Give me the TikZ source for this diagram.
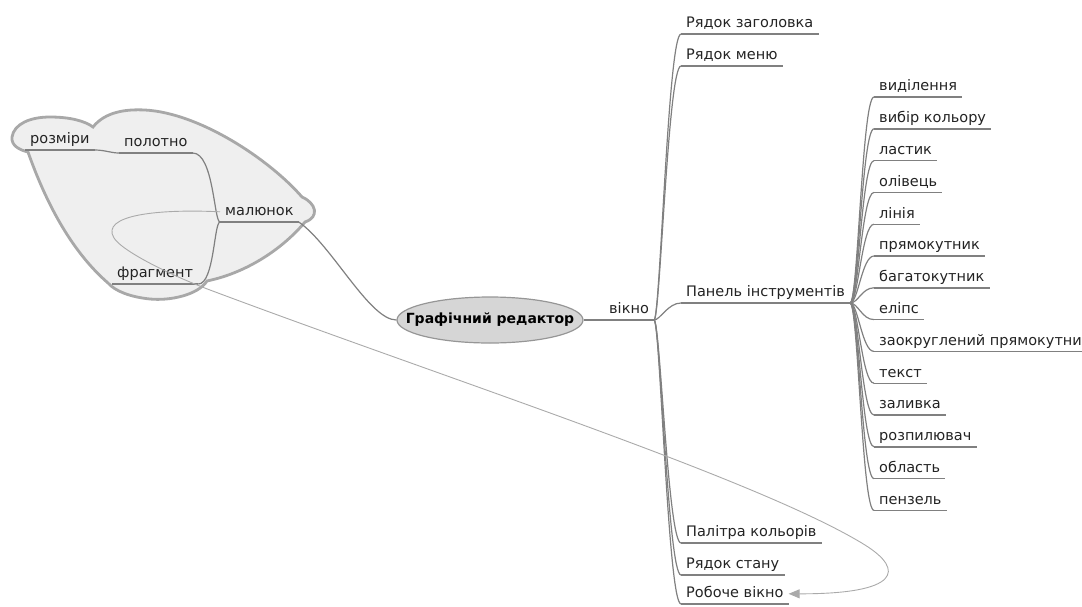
\documentclass[tikz,border=0pt]{standalone}
\usepackage{fontspec}
\setmainfont{DejaVu Sans}
\usetikzlibrary{arrows.meta,shapes.geometric}
\definecolor{wiregray}{RGB}{128,128,128}
\definecolor{blobfill}{RGB}{239,239,239}
\definecolor{blobedge}{RGB}{168,168,168}
\definecolor{centrefill}{RGB}{214,214,214}
\definecolor{centreedge}{RGB}{150,150,150}
\definecolor{relgray}{RGB}{170,170,170}
\definecolor{inkgray}{RGB}{35,35,35}
\tikzset{
  branch/.style={wiregray,line width=1.2pt},
  uline/.style={wiregray,line width=1.4pt},
  relation/.style={relgray,line width=0.9pt,-{Triangle[length=11pt,width=9pt]}},
  topic/.style={anchor=south west,inner xsep=5pt,inner ysep=4pt,text height=10pt,text depth=2pt,
                font=\fontsize{14.5}{17}\selectfont,text=inkgray},
  central/.style={ellipse,draw=centreedge,fill=centrefill,line width=1.2pt,minimum width=186pt,
                  minimum height=46pt,inner xsep=-22pt,inner ysep=0pt,
                  font=\fontsize{14}{17}\selectfont\bfseries,text=black},
  blob/.style={draw=blobedge,fill=blobfill,line width=2.8pt},
}
\begin{document}
\begin{tikzpicture}[x=1pt,y=-1pt]
  \path[use as bounding box] (0,0) rectangle (1082,606);
  \draw[blob] (12,137) .. controls (14,124) and (30,117) .. (50,117)
    .. controls (70,117) and (85,121) .. (93,127)
    .. controls (105,112) and (125,109) .. (145,110)
    .. controls (200,113) and (270,160) .. (302,197)
    .. controls (316,203) and (320,217) .. (305,222)
    .. controls (285,246) and (250,272) .. (207,281)
    .. controls (198,295) and (170,301) .. (150,299)
    .. controls (130,297) and (115,291) .. (108,283)
    .. controls (70,250) and (45,200) .. (28,152)
    .. controls (20,150) and (11,146) .. cycle;

  \node[central] (EDIT) at (490,320) {Графічний редактор};
  \node[topic] (WIN) at (604,320) {вікно};
  \node[topic] (TITLE) at (681,34) {Рядок заголовка};
  \node[topic] (MENU) at (681,66) {Рядок меню};
  \node[topic] (TOOLS) at (681,303) {Панель інструментів};
  \node[topic] (PAL) at (681,543) {Палітра кольорів};
  \node[topic] (STAT) at (681,575) {Рядок стану};
  \node[topic] (WORK) at (681,604) {Робоче вікно};
  \foreach \txt [count=\i from 0] in {виділення,вибір кольору,ластик,олівець,лінія,прямокутник,
      багатокутник,еліпс,заокруглений прямокутник,текст,заливка,розпилювач,область,пензель}
    \node[topic] (T\i) at (874,{97+31.8*\i}) {\txt};
  \node[topic] (PIC) at (220,222) {малюнок};
  \node[topic] (CANV) at (119,153) {полотно};
  \node[topic] (SIZE) at (25,150) {розміри};
  \node[topic] (FRAG) at (112,284) {фрагмент};

  \foreach \n in {WIN,TITLE,MENU,TOOLS,PAL,STAT,WORK,PIC,CANV,SIZE,FRAG}
    \draw[uline] (\n.south west) -- (\n.south east);
  \foreach \i in {0,...,13}
    \draw[uline] (T\i.south west) -- (T\i.south east);

  \draw[branch] (EDIT.east) -- (WIN.south west);
  \foreach \n in {TITLE,MENU,TOOLS,PAL,STAT,WORK}
    \draw[branch] (WIN.south east) .. controls +(6,0) and +(-13,0) .. (\n.south west);
  \foreach \i in {0,...,13}
    \draw[branch] (TOOLS.south east) .. controls +(8,0) and +(-12,0) .. (T\i.south west);
  \draw[branch] (EDIT.west) .. controls +(-27,0) and +(33,23) .. (PIC.south east);
  \draw[branch] (PIC.south west) .. controls +(-6,0) and +(21,0) .. (CANV.south east);
  \draw[branch] (PIC.south west) .. controls +(-6,0) and +(16,0) .. (FRAG.south east);
  \draw[branch] (CANV.south west) .. controls +(-8,0) and +(10,0) .. (SIZE.south east);

  \draw[relation] (PIC.west) .. controls +(-62,-3) and (100,215) .. (114,238)
    .. controls (122,251) and (170,275) .. (210,290)
    .. controls (450,380) and (760,480) .. (865,545)
    .. controls (905,570) and (900,594) .. (WORK.east);
\end{tikzpicture}
\end{document}
